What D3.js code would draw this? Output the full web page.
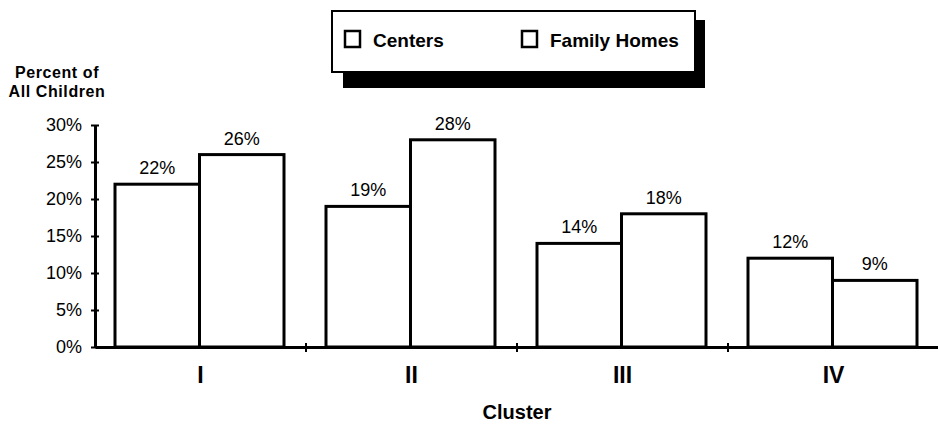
<!DOCTYPE html>
<html>
<head>
<meta charset="utf-8">
<script src="https://cdn.jsdelivr.net/npm/d3@7/dist/d3.min.js"></script>
<style>
  html, body { margin: 0; padding: 0; background: #fff; }
  svg { display: block; font-family: "Liberation Sans", Arial, Helvetica, sans-serif; }
</style>
</head>
<body>
<svg id="chart" width="938" height="424"></svg>
<script>
// Share of all children in care, by cluster and type of care setting
const clusters = ["I", "II", "III", "IV"];
const seriesNames = ["Centers", "Family Homes"];
const centers = [22, 19, 14, 12];
const familyHomes = [26, 28, 18, 9];
const yTicks = [0, 5, 10, 15, 20, 25, 30];

const rows = clusters.map((c, i) => ({
  cluster: c,
  values: [
    { series: seriesNames[0], value: centers[i] },
    { series: seriesNames[1], value: familyHomes[i] }
  ]
}));

const svg = d3.select("#chart");

const y = d3.scaleLinear().domain([0, 30]).range([347, 125]);
const x0 = d3.scaleBand().domain(clusters).range([95, 939]).padding(0);
const x1 = d3.scaleBand().domain(seriesNames).range([20, 189]).padding(0);

// Bars
const groups = svg.append("g").selectAll("g")
  .data(rows)
  .join("g")
  .attr("transform", d => `translate(${x0(d.cluster)},0)`);

groups.selectAll("rect")
  .data(d => d.values)
  .join("rect")
  .attr("x", d => x1(d.series))
  .attr("y", d => y(d.value))
  .attr("width", x1.bandwidth())
  .attr("height", d => y(0) - y(d.value))
  .attr("fill", "#fff")
  .attr("stroke", "#000")
  .attr("stroke-width", 3);

// Value labels above each bar
groups.selectAll("text")
  .data(d => d.values)
  .join("text")
  .attr("x", d => x1(d.series) + x1.bandwidth() / 2)
  .attr("y", d => y(d.value) - 10)
  .attr("text-anchor", "middle")
  .attr("font-size", 18)
  .text(d => d.value + "%");

// Y axis
const yAxis = svg.append("g").attr("transform", "translate(95,0)")
  .call(d3.axisLeft(y).tickValues(yTicks).tickFormat(d => d + "%").tickSizeInner(4).tickSizeOuter(0).tickPadding(9));
yAxis.select(".domain").attr("stroke-width", 3);
yAxis.selectAll(".tick line").attr("x2", 4).attr("x1", -4).attr("stroke-width", 2);
yAxis.selectAll(".tick text")
  .attr("font-size", 18)
  .attr("font-family", "'Liberation Sans', Arial, sans-serif")
  .attr("fill", "#000");

// X axis
const xAxis = svg.append("g").attr("transform", `translate(0,${y(0)})`)
  .call(d3.axisBottom(x0).tickSize(0).tickPadding(20));
xAxis.select(".domain").attr("stroke-width", 3);
xAxis.selectAll(".tick text")
  .attr("font-size", 23)
  .attr("font-weight", "bold")
  .attr("font-family", "'Liberation Sans Narrow', 'Liberation Sans', Arial, sans-serif")
  .attr("fill", "#000");

// Cross marks at the cluster boundaries
xAxis.selectAll("line.sep")
  .data(clusters.slice(1))
  .join("line")
  .attr("class", "sep")
  .attr("x1", d => x0(d)).attr("x2", d => x0(d))
  .attr("y1", -4).attr("y2", 5)
  .attr("stroke", "#000")
  .attr("stroke-width", 2);

// Axis titles
svg.append("text")
  .attr("x", 57).attr("y", 78)
  .attr("text-anchor", "middle")
  .attr("font-size", 16)
  .attr("font-weight", "bold")
  .attr("letter-spacing", 0.6)
  .text("Percent of");
svg.append("text")
  .attr("x", 57).attr("y", 97)
  .attr("text-anchor", "middle")
  .attr("font-size", 16)
  .attr("font-weight", "bold")
  .attr("letter-spacing", 0.6)
  .text("All Children");

svg.append("text")
  .attr("x", (x0.range()[0] + x0.range()[1]) / 2)
  .attr("y", 419)
  .attr("text-anchor", "middle")
  .attr("font-size", 20)
  .attr("font-weight", "bold")
  .text("Cluster");

// Legend with drop shadow
const legend = svg.append("g");
legend.append("rect")
  .attr("x", 343).attr("y", 20).attr("width", 362).attr("height", 68)
  .attr("fill", "#000");
legend.append("rect")
  .attr("x", 332).attr("y", 11).attr("width", 363).attr("height", 61)
  .attr("fill", "#fff").attr("stroke", "#000").attr("stroke-width", 2);

const legendX = [345, 522];
const items = legend.selectAll("g.item")
  .data(seriesNames)
  .join("g")
  .attr("class", "item")
  .attr("transform", (d, i) => `translate(${legendX[i]},31)`);
items.append("rect")
  .attr("width", 15).attr("height", 16)
  .attr("fill", "#fff").attr("stroke", "#000").attr("stroke-width", 2.5);
items.append("text")
  .attr("x", 28).attr("y", 16)
  .attr("font-size", 19)
  .attr("font-weight", "bold")
  .text(d => d);
</script>
</body>
</html>
